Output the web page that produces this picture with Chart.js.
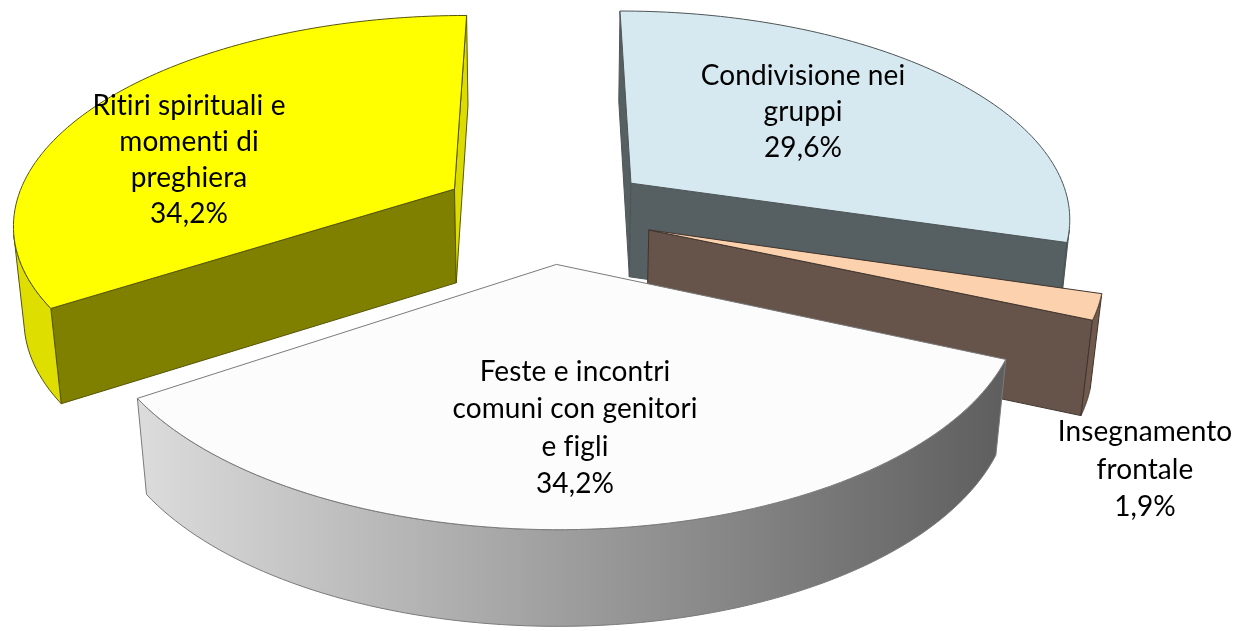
<!DOCTYPE html>
<html>
<head>
<meta charset="utf-8">
<style>
    body { margin: 0; background: #fff; }
    canvas { display: block; }
</style>
<script src="https://cdn.jsdelivr.net/npm/chart.js@4"></script>
</head>
<body>
<canvas id="pie" width="1239" height="631"></canvas>
<script>
const categories = ['Condivisione nei gruppi', 'Insegnamento frontale', 'Feste e incontri comuni con genitori e figli', 'Ritiri spirituali e momenti di preghiera'];
const percentages = [29.6, 1.9, 34.2, 34.2];
const labelLines = [
    ['Condivisione nei', 'gruppi'],
    ['Insegnamento', 'frontale'],
    ['Feste e incontri', 'comuni con genitori', 'e figli'],
    ['Ritiri spirituali e', 'momenti di', 'preghiera'],
];

const topColors = ['#d6e9f0', '#fcd1ae', '#fcfcfc', '#ffff00'];
const startWallColors = ['#566063', '#66544a', '#707070', '#808000'];
const endWallColors = ['#566063', '#66544a', '#707070', '#dcdc00'];
const sideColors = ['#566063', '#705a4d', null, '#dede00'];
const edgeColors = ['#4c5456', '#3f342d', '#7a7a7a', '#55550a'];
const labelAnchors = [[803, 76, 36], [1145, 432, 37.5], [575, 372, 37.3], [189, 106, 36]];

// tilted view of the pie plane, fitted on the reference
const view = {cx: 547, cy: 212.5, tilt: 0.45, depth: 3000, scaleX: 0.96, scale: 1.639, height: 95, shrink: 0.02};

const project = (x, y, z) => {
    const u = x * view.scale * view.scaleX;
    const v = -y * view.scale;
    const w = 1 + v / view.depth + z * view.shrink;
    return [view.cx + u / w, view.cy + -view.tilt * v / w + z * view.height / Math.sqrt(w)];
};

const fillFace = (ctx, points, fill) => {
    ctx.beginPath();
    points.forEach(([x, y], i) => (i ? ctx.lineTo(x, y) : ctx.moveTo(x, y)));
    ctx.closePath();
    ctx.fillStyle = fill;
    ctx.fill();
    ctx.stroke();
};

const shoelace = (points) => {
    let sum = 0;
    points.forEach((p, i) => {
        const q = points[(i + 1) % points.length];
        sum += p[0] * q[1] - q[0] * p[1];
    });
    return sum;
};

const drawSlice = (ctx, arc, i) => {
    const {startAngle, endAngle, outerRadius} = arc.getProps(['startAngle', 'endAngle', 'outerRadius'], true);
    const mid = (startAngle + endAngle) / 2;
    const ox = Math.cos(mid) * arc.options.offset;
    const oy = Math.sin(mid) * arc.options.offset;
    const at = (angle, z) => project(ox + Math.cos(angle) * outerRadius, oy + Math.sin(angle) * outerRadius, z);
    const apex = (z) => project(ox, oy, z);

    const steps = 90;
    const angles = [];
    for (let s = 0; s <= steps; s++) {
        angles.push(startAngle + (endAngle - startAngle) * s / steps);
    }

    ctx.lineWidth = 1;
    ctx.strokeStyle = edgeColors[i];
    ctx.lineJoin = 'round';

    // radial walls, only when they face the viewer
    const startWall = [apex(0), at(startAngle, 0), at(startAngle, 1), apex(1)];
    if (shoelace(startWall) < 0) {
        fillFace(ctx, startWall, startWallColors[i]);
    }
    const endWall = [apex(0), at(endAngle, 0), at(endAngle, 1), apex(1)];
    if (shoelace(endWall) > 0) {
        fillFace(ctx, endWall, endWallColors[i]);
    }

    // outer rim: the runs of segments that face the viewer
    let side = sideColors[i];
    if (!side) {
        side = ctx.createLinearGradient(at(endAngle, 0)[0], 0, at(startAngle, 0)[0], 0);
        side.addColorStop(0, '#dcdcdc');
        side.addColorStop(1, '#5e5e5e');
    }
    let run = [];
    const flush = () => {
        if (run.length > 1) {
            const upper = run.map((a) => at(a, 0));
            const lower = run.map((a) => at(a, 1)).reverse();
            fillFace(ctx, upper.concat(lower), side);
        }
        run = [];
    };
    for (let s = 0; s < steps; s++) {
        const quad = [at(angles[s], 0), at(angles[s + 1], 0), at(angles[s + 1], 1), at(angles[s], 1)];
        if (shoelace(quad) < 0) {
            if (!run.length) {
                run.push(angles[s]);
            }
            run.push(angles[s + 1]);
        } else {
            flush();
        }
    }
    flush();

    fillFace(ctx, [apex(0)].concat(angles.map((a) => at(a, 0))), topColors[i]);
};

const tiltedPie = {
    id: 'tiltedPie',
    beforeDatasetDraw(chart) {
        const {ctx} = chart;
        const arcs = chart.getDatasetMeta(0).data;
        ctx.save();
        [3, 0, 1, 2].forEach((i) => drawSlice(ctx, arcs[i], i));
        ctx.restore();
        return false;
    },
    afterDraw(chart) {
        const {ctx} = chart;
        ctx.save();
        ctx.fillStyle = '#000';
        ctx.font = '28px Lato';
        ctx.letterSpacing = '0.1px';
        ctx.textAlign = 'center';
        ctx.textBaseline = 'middle';
        labelLines.forEach((lines, i) => {
            const [x, y, step] = labelAnchors[i];
            const text = lines.concat(percentages[i].toFixed(1).replace('.', ',') + '%');
            text.forEach((line, n) => ctx.fillText(line, x, y + n * step));
        });
        ctx.restore();
    },
};

new Chart(document.getElementById('pie'), {
    type: 'pie',
    data: {
        labels: categories,
        datasets: [{
            data: percentages,
            backgroundColor: topColors,
            offset: 68,
        }],
    },
    options: {
        responsive: false,
        animation: false,
        plugins: {
            legend: {display: false},
            tooltip: {enabled: false},
        },
    },
    plugins: [tiltedPie],
});
</script>
</body>
</html>
